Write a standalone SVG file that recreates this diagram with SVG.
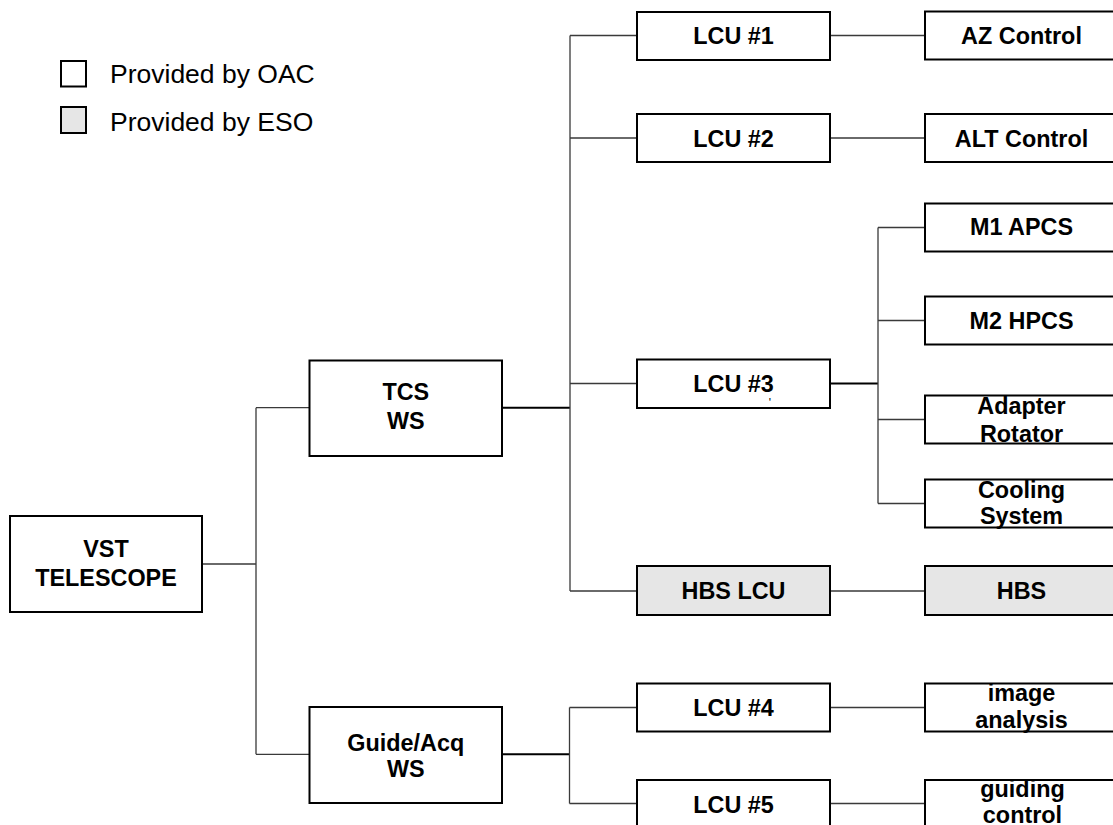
<svg xmlns="http://www.w3.org/2000/svg" width="1113" height="825" viewBox="0 0 1113 825">
<style>
.box{fill:#ffffff;stroke:#000;stroke-width:2}
.eso{fill:#e6e6e6;stroke:#000;stroke-width:2}
.t{font-family:"Liberation Sans",Arial,sans-serif;font-weight:bold;font-size:23.4px;fill:#000;text-anchor:middle}
.leg{font-family:"Liberation Sans",Arial,sans-serif;font-size:26.5px;fill:#000}
.c{stroke:#3a3a3a;stroke-width:1.3;fill:none}
.ct{stroke:#000;stroke-width:2;fill:none}
</style>
<rect width="1113" height="825" fill="#fff"/>
<g id="legend">
<rect class="box" x="61" y="61" width="25" height="25.5"/>
<text class="leg" x="110" y="83">Provided by OAC</text>
<rect class="eso" x="61" y="107" width="25" height="26"/>
<text class="leg" x="110" y="130.5">Provided by ESO</text>
</g>
<g id="connectors">
<path class="c" d="M202 564H256M256 407.7V754.3M256 407.7H309.5M256 754.3H309.5"/>
<path class="ct" d="M502 407.7H570"/>
<path class="c" d="M570 35.5V591M570 35.5H637M570 138H637M570 383.5H637M570 591H637"/>
<path class="c" d="M830 35.5H925M830 138H925M830 591H925M830 707.5H925M830 803.5H925"/>
<path class="ct" d="M830 383.5H878"/>
<path class="c" d="M878 227.5V503.5M878 227.5H925M878 320.5H925M878 419.5H925M878 503.5H925"/>
<path class="ct" d="M502 754.3H569.5"/>
<path class="c" d="M569.5 707.5V803.5M569.5 707.5H637M569.5 803.5H637"/>
</g>
<g id="vst"><rect class="box" x="10" y="516" width="192" height="96"/><text class="t" x="106" y="556.5">VST</text><text class="t" x="106" y="585.5">TELESCOPE</text></g>
<g id="tcs"><rect class="box" x="309.5" y="360.5" width="192.5" height="95.5"/><text class="t" x="405.8" y="400">TCS</text><text class="t" x="405.8" y="429">WS</text></g>
<g id="guide"><rect class="box" x="309.5" y="707" width="192.5" height="96"/><text class="t" x="405.8" y="750.5">Guide/Acq</text><text class="t" x="405.8" y="776.5">WS</text></g>
<g id="lcu1"><rect class="box" x="637" y="12" width="193" height="48"/><text class="t" x="733.5" y="44">LCU #1</text></g>
<g id="lcu2"><rect class="box" x="637" y="114" width="193" height="48"/><text class="t" x="733.5" y="146.5">LCU #2</text></g>
<g id="lcu3"><rect class="box" x="637" y="359.5" width="193" height="48.5"/><text class="t" x="733.5" y="391.5">LCU #3</text><text x="770" y="407" font-family="Liberation Sans,Arial,sans-serif" font-size="12" text-anchor="middle">'</text></g>
<g id="hbslcu"><rect class="eso" x="637" y="566" width="193" height="49"/><text class="t" x="733.5" y="598.5">HBS LCU</text></g>
<g id="lcu4"><rect class="box" x="637" y="683.5" width="193" height="48"/><text class="t" x="733.5" y="716">LCU #4</text></g>
<g id="lcu5"><rect class="box" x="637" y="780" width="193" height="48"/><text class="t" x="733.5" y="812.5">LCU #5</text></g>
<g id="az"><rect class="box" x="925" y="11.5" width="193" height="48"/><text class="t" x="1021.5" y="43.5">AZ Control</text></g>
<g id="alt"><rect class="box" x="925" y="114" width="193" height="48"/><text class="t" x="1021.5" y="146.5">ALT Control</text></g>
<g id="m1"><rect class="box" x="925" y="203.5" width="193" height="48"/><text class="t" x="1021.5" y="235">M1 APCS</text></g>
<g id="m2"><rect class="box" x="925" y="296.5" width="193" height="48"/><text class="t" x="1021.5" y="328.5">M2 HPCS</text></g>
<g id="adapter"><rect class="box" x="925" y="395.5" width="193" height="48"/><text class="t" x="1021.5" y="413.5">Adapter</text><text class="t" x="1021.5" y="441.5">Rotator</text></g>
<g id="cooling"><rect class="box" x="925" y="479.5" width="193" height="48"/><text class="t" x="1021.5" y="497.5">Cooling</text><text class="t" x="1021.5" y="523.5">System</text></g>
<g id="hbs"><rect class="eso" x="925" y="566" width="193" height="49"/><text class="t" x="1021.5" y="598.5">HBS</text></g>
<g id="image"><rect class="box" x="925" y="683.5" width="193" height="48"/><text class="t" x="1021.5" y="700.5">image</text><text class="t" x="1021.5" y="728">analysis</text></g>
<g id="guiding"><rect class="box" x="925" y="780" width="193" height="48"/><text class="t" x="1022.5" y="796.5">guiding</text><text class="t" x="1022.5" y="823">control</text></g>
</svg>
